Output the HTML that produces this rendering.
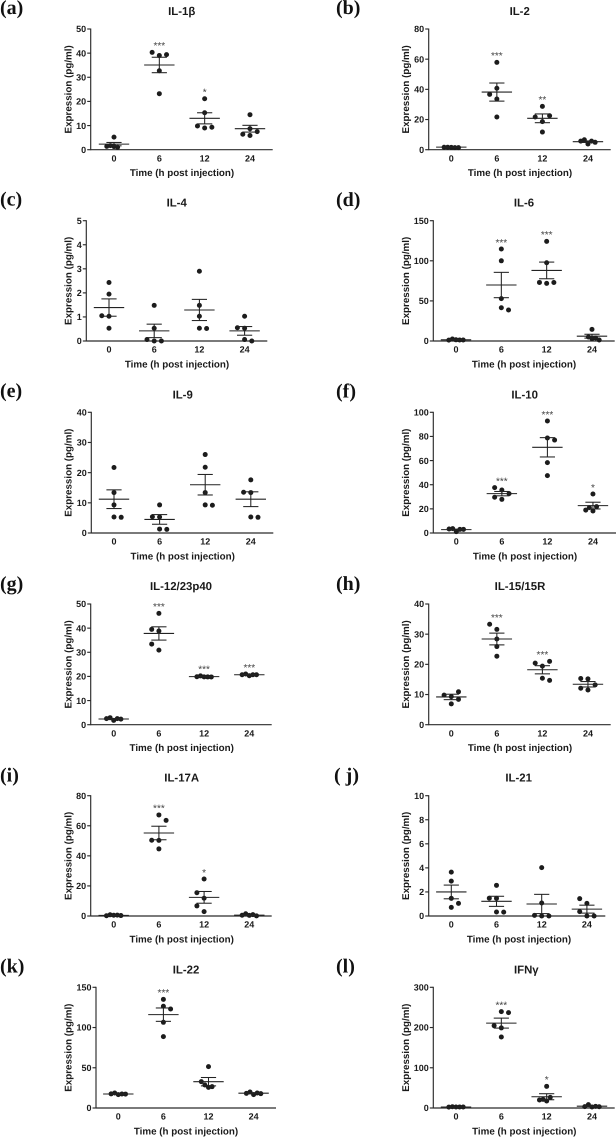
<!DOCTYPE html>
<html lang="en">
<head>
<meta charset="utf-8">
<title>Cytokine expression after injection</title>
<style>
html,body{margin:0;padding:0;background:#fff;}
#figure{display:block;width:616px;height:1137px;filter:blur(0.3px);}
text{font-family:"Liberation Sans",Arial,sans-serif;font-weight:bold;fill:#1a1a1a;text-rendering:geometricPrecision;}
.letter{font-family:"Liberation Serif","Times New Roman",serif;font-size:20px;fill:#111;}
.title{font-size:11.4px;text-anchor:middle;}
.tick{font-size:9px;}
.axis-label{font-size:9.8px;text-anchor:middle;}
.stars{font-size:10px;font-weight:normal;text-anchor:middle;fill:#444;}
</style>
</head>
<body>
<svg id="figure" xmlns="http://www.w3.org/2000/svg" width="616" height="1137" viewBox="0 0 616 1137"></svg>
<script>
const timepoints = ['0', '6', '12', '24'];
const xAxisTitle = 'Time (h post injection)';
const yAxisTitle = 'Expression (pg/ml)';

const il1bTicks = [0, 10, 20, 30, 40, 50];
const il1bDots = [[5.2, 1.3, 1.7, 1.0, 1.4], [39.0, 40.3, 39.4, 32.7, 23.2], [21.1, 15.3, 9.0, 9.8, 9.3], [14.5, 8.7, 7.5, 5.9, 6.4]];
const il1bMeans = [2.3, 35.1, 13, 8.7];
const il1bSems = [0.7, 3.2, 2.3, 1.4];
const il1bStars = ['', '***', '*', ''];

const il2Ticks = [0, 20, 40, 60, 80];
const il2Dots = [[1.5, 1.6, 1.4, 1.65, 1.35], [57.9, 40.7, 33.6, 36.7, 21.7], [28.7, 18.6, 11.7, 21.7, 22.5], [3.8, 6.6, 5.7, 5.69, 4.9]];
const il2Means = [1.7, 38.2, 20.8, 5.3];
const il2Sems = [0.15, 6, 2.9, 0.5];
const il2Stars = ['', '***', '**', ''];

const il4Ticks = [0, 1, 2, 3, 4, 5];
const il4Dots = [[2.43, 1.95, 1.03, 1.05, 0.53], [1.48, 0.53, 0, 0.06, 0], [2.9, 1.48, 1.03, 0.53, 0.52], [1.03, 0.53, 0.55, 0.06, 0]];
const il4Means = [1.39, 0.42, 1.29, 0.42];
const il4Sems = [0.36, 0.28, 0.44, 0.18];
const il4Stars = ['', '', '', ''];

const il6Ticks = [0, 50, 100, 150];
const il6Dots = [[1.5, 2.5, 1.3, 1.2, 1.1], [114.7, 100, 52.8, 41.5, 38.6], [124.2, 97.6, 71.9, 73, 72.9], [14.5, 3, 5, 3.7, 1.2]];
const il6Means = [1.5, 69.8, 88, 6];
const il6Sems = [0.3, 15.8, 10.4, 2.4];
const il6Stars = ['', '***', '***', ''];

const il9Ticks = [0, 10, 20, 30, 40];
const il9Dots = [[21.7, 13.4, 9.3, 5.3, 5.2], [9.3, 5.3, 5.4, 1.3, 1.2], [26, 21.8, 13.4, 9.3, 9.2], [17.6, 13.4, 13.5, 5.3, 5.2]];
const il9Means = [11.2, 4.5, 16, 11.2];
const il9Sems = [3.1, 1.6, 3.4, 2.45];
const il9Stars = ['', '', '', ''];

const il10Ticks = [0, 20, 40, 60, 80, 100];
const il10Dots = [[1.1, 3.6, 3.0, 3.3, 3.01], [35.6, 37.6, 27.9, 29.6, 32.6], [92.8, 78.7, 77, 58.3, 47.5], [32.3, 18.2, 21, 21.8, 19]];
const il10Means = [2.8, 32.6, 71, 22.7];
const il10Sems = [0.4, 1.8, 8, 2.8];
const il10Stars = ['', '***', '***', '*'];

const il12Ticks = [0, 10, 20, 30, 40, 50];
const il12Dots = [[1.8, 2.9, 2.5, 2.51, 2.3], [46.1, 38.8, 39.5, 30.9, 33.4], [19.8, 20.2, 19.79, 19.85, 19.78], [20.3, 21, 20.7, 20.71, 20.69]];
const il12Means = [2.35, 37.8, 19.9, 20.7];
const il12Sems = [0.2, 2.75, 0.1, 0.15];
const il12Stars = ['', '***', '***', '***'];

const il15Ticks = [0, 10, 20, 30, 40];
const il15Dots = [[9.3, 9.8, 10.9, 6.9, 8.4], [31.6, 33.3, 28.4, 25.9, 22.7], [19.4, 20.4, 21, 15.4, 14.7], [15.2, 15.3, 13.2, 11.5, 12.1]];
const il15Means = [9.2, 28.4, 18.2, 13.4];
const il15Sems = [0.9, 1.95, 1.35, 0.9];
const il15Stars = ['', '***', '***', ''];

const il17Ticks = [0, 20, 40, 60, 80];
const il17Dots = [[0.5, 0.8, 0.6, 0.3, 0.2], [67.2, 63.6, 50.3, 50.4, 44.6], [24.6, 11.8, 15.5, 2.9, 6.7], [0.4, 1.5, 0.9, 0.5, 0.1]];
const il17Means = [0.4, 55.2, 12.4, 0.6];
const il17Sems = [0.15, 4.5, 3.9, 0.25];
const il17Stars = ['', '***', '*', ''];

const il21Ticks = [0, 2, 4, 6, 8, 10];
const il21Dots = [[3.65, 2.9, 1.47, 1.05, 0.72], [2.55, 1.47, 1.48, 0.33, 0.32], [4.02, 1.08, 0, 0.05, 0], [1.05, 1.44, 0, 0.36, 0]];
const il21Means = [2, 1.22, 1, 0.57];
const il21Sems = [0.57, 0.42, 0.8, 0.33];
const il21Stars = ['', '', '', ''];

const il22Ticks = [0, 50, 100, 150];
const il22Dots = [[16.6, 18.6, 17.4, 17.5, 17.3], [135, 126.4, 123, 106.5, 88.7], [51.4, 25.7, 28.6, 26.5, 32.7], [16.6, 19.9, 18.6, 18.2, 17.8]];
const il22Means = [17.4, 116, 32.7, 18.4];
const il22Sems = [0.4, 8.3, 5.2, 0.55];
const il22Stars = ['', '***', '', ''];

const ifngTicks = [0, 100, 200, 300];
const ifngDots = [[2.5, 3, 2.5, 2.4, 2.2], [239.5, 237, 199, 204.6, 176.5], [53.9, 17.4, 21.5, 26.5, 19.9], [2.5, 8.3, 4, 3.5, 3]];
const ifngMeans = [2.5, 211, 28, 4.5];
const ifngSems = [0.2, 12.4, 7.5, 1];
const ifngStars = ['', '***', '*', ''];

const panels = [
  {slug: 'il-1b', letter: '(a)', title: 'IL-1β', ticks: il1bTicks, dots: il1bDots, means: il1bMeans, sems: il1bSems, stars: il1bStars},
  {slug: 'il-2', letter: '(b)', title: 'IL-2', ticks: il2Ticks, dots: il2Dots, means: il2Means, sems: il2Sems, stars: il2Stars},
  {slug: 'il-4', letter: '(c)', title: 'IL-4', ticks: il4Ticks, dots: il4Dots, means: il4Means, sems: il4Sems, stars: il4Stars},
  {slug: 'il-6', letter: '(d)', title: 'IL-6', ticks: il6Ticks, dots: il6Dots, means: il6Means, sems: il6Sems, stars: il6Stars},
  {slug: 'il-9', letter: '(e)', title: 'IL-9', ticks: il9Ticks, dots: il9Dots, means: il9Means, sems: il9Sems, stars: il9Stars},
  {slug: 'il-10', letter: '(f)', title: 'IL-10', ticks: il10Ticks, dots: il10Dots, means: il10Means, sems: il10Sems, stars: il10Stars},
  {slug: 'il-12', letter: '(g)', title: 'IL-12/23p40', ticks: il12Ticks, dots: il12Dots, means: il12Means, sems: il12Sems, stars: il12Stars},
  {slug: 'il-15', letter: '(h)', title: 'IL-15/15R', ticks: il15Ticks, dots: il15Dots, means: il15Means, sems: il15Sems, stars: il15Stars},
  {slug: 'il-17a', letter: '(i)', title: 'IL-17A', ticks: il17Ticks, dots: il17Dots, means: il17Means, sems: il17Sems, stars: il17Stars},
  {slug: 'il-21', letter: '( j)', title: 'IL-21', ticks: il21Ticks, dots: il21Dots, means: il21Means, sems: il21Sems, stars: il21Stars},
  {slug: 'il-22', letter: '(k)', title: 'IL-22', ticks: il22Ticks, dots: il22Dots, means: il22Means, sems: il22Sems, stars: il22Stars},
  {slug: 'ifn-gamma', letter: '(l)', title: 'IFNγ', ticks: ifngTicks, dots: ifngDots, means: ifngMeans, sems: ifngSems, stars: ifngStars}
];

/* Plot frames (page layout, not data): one per panel, same order as panels. */
const frames = [
  {axisX: 90.7, yZero: 149.7, yTop: 29, firstCat: 114, step: 45.33, xEnd: 272.7, titleX: 181.7, labelX: 182, yTitleX: 71.5, letterX: 0, letterY: 14},
  {axisX: 428.7, yZero: 149.7, yTop: 29, firstCat: 451.3, step: 45.55, xEnd: 610.7, titleX: 519.7, labelX: 520, yTitleX: 409, letterX: 336, letterY: 14},
  {axisX: 86.3, yZero: 341, yTop: 220.7, firstCat: 109, step: 45.2, xEnd: 267.3, titleX: 176.7, labelX: 177, yTitleX: 71.5, letterX: 0, letterY: 205.7},
  {axisX: 433.3, yZero: 341, yTop: 220.7, firstCat: 456, step: 45.33, xEnd: 614.7, titleX: 524, labelX: 524, yTitleX: 409, letterX: 336, letterY: 206},
  {axisX: 91.3, yZero: 533, yTop: 412.3, firstCat: 114, step: 45.6, xEnd: 273.3, titleX: 182.7, labelX: 182.7, yTitleX: 71.5, letterX: 0, letterY: 397},
  {axisX: 433.3, yZero: 533, yTop: 412.3, firstCat: 456.3, step: 45.55, xEnd: 616, titleX: 524.7, labelX: 525, yTitleX: 409, letterX: 336, letterY: 397.5},
  {axisX: 90.7, yZero: 724.7, yTop: 604, firstCat: 113.7, step: 45.2, xEnd: 271.7, titleX: 181, labelX: 181.7, yTitleX: 71.5, letterX: 0, letterY: 590},
  {axisX: 428.7, yZero: 724.7, yTop: 604, firstCat: 451.3, step: 45.55, xEnd: 610.7, titleX: 520, labelX: 520, yTitleX: 409, letterX: 336, letterY: 590},
  {axisX: 90.7, yZero: 916, yTop: 795.7, firstCat: 113.7, step: 45.2, xEnd: 271.7, titleX: 181.7, labelX: 181.7, yTitleX: 71.5, letterX: 0, letterY: 781.7},
  {axisX: 428.7, yZero: 916, yTop: 795.7, firstCat: 451.3, step: 45.2, xEnd: 605.3, titleX: 518.7, labelX: 519, yTitleX: 409, letterX: 334, letterY: 781.7},
  {axisX: 96, yZero: 1108, yTop: 987.3, firstCat: 118.3, step: 45.1, xEnd: 276, titleX: 186, labelX: 186, yTitleX: 71.5, letterX: 0, letterY: 972.3},
  {axisX: 433.3, yZero: 1108, yTop: 987.3, firstCat: 456, step: 45.33, xEnd: 614.7, titleX: 526.3, labelX: 524.3, yTitleX: 409, letterX: 336, letterY: 972.3}
];

const SVG_NS = 'http://www.w3.org/2000/svg';
const figure = document.getElementById('figure');

function make(parent, tag, name, attrs, content) {
  const el = document.createElementNS(SVG_NS, tag);
  
  
  for (const key in attrs) el.setAttribute(key, attrs[key]);
  if (content !== undefined) el.textContent = content;
  parent.appendChild(el);
  return el;
}

/* Swarm layout: a dot that collides with another in its column moves sideways.
   Columns collapse to half width when a swarm needs five columns. */
function swarmOffsets(values, yScale, unit) {
  const minGap = 6.5;
  const placed = [];
  const collides = (slot, y) => placed.some(p => p.slot === slot && Math.abs(p.y - y) < minGap);
  values.forEach(v => {
    const y = yScale(v);
    let slot = 0;
    if (collides(0, y)) {
      let nearest = null;
      placed.filter(p => p.slot === 0).forEach(p => {
        if (nearest === null || Math.abs(p.y - y) < Math.abs(nearest.y - y)) nearest = p;
      });
      const dir = y < nearest.y ? -1 : 1;
      const order = [dir, -dir, 2 * dir, -2 * dir];
      slot = order.find(s => !collides(s, y));
      if (slot === undefined) slot = 0;
    }
    placed.push({slot: slot, y: y});
  });
  const squeeze = placed.some(p => Math.abs(p.slot) >= 2) ? 0.5 : 1;
  return placed.map(p => p.slot * unit * squeeze);
}

function drawPanel(panel, frame) {
  const group = make(figure, 'g', 'panel-' + panel.slug, {});
  const yMax = panel.ticks[panel.ticks.length - 1];
  const yScale = v => frame.yZero - (v / yMax) * (frame.yZero - frame.yTop);
  const xScale = i => frame.firstCat + i * frame.step;
  const axisStyle = {stroke: '#2b2b2b', 'stroke-width': 1.15, fill: 'none'};

  make(group, 'text', 'panel-letter', {x: frame.letterX, y: frame.letterY, class: 'letter'}, panel.letter);
  make(group, 'text', 'chart-title', {x: frame.titleX, y: frame.yTop - 14, class: 'title'}, panel.title);

  make(group, 'line', 'y-axis', Object.assign({x1: frame.axisX, x2: frame.axisX, y1: frame.yTop - 0.5, y2: frame.yZero + 0.5}, axisStyle));
  make(group, 'line', 'x-axis', Object.assign({x1: frame.axisX, x2: frame.xEnd, y1: frame.yZero, y2: frame.yZero}, axisStyle));

  panel.ticks.forEach(t => {
    const y = yScale(t);
    make(group, 'line', 'y-tick', Object.assign({x1: frame.axisX - 3.5, x2: frame.axisX, y1: y, y2: y}, axisStyle));
    make(group, 'text', 'y-tick-label', {x: frame.axisX - 4.5, y: y + 3.2, class: 'tick', 'text-anchor': 'end'}, String(t));
  });

  timepoints.forEach((label, i) => {
    make(group, 'text', 'x-tick-label', {x: xScale(i), y: frame.yZero + 11.7, class: 'tick', 'text-anchor': 'middle'}, label);
  });

  make(group, 'text', 'x-axis-title', {x: frame.labelX, y: frame.yZero + 26.3, class: 'axis-label'}, xAxisTitle);
  const yTitleY = (frame.yZero + frame.yTop) / 2;
  make(group, 'text', 'y-axis-title', {x: frame.yTitleX, y: yTitleY, class: 'axis-label', transform: 'rotate(-90 ' + frame.yTitleX + ' ' + yTitleY + ')'}, yAxisTitle);

  timepoints.forEach((label, i) => {
    const cx = xScale(i);
    const values = panel.dots[i];
    const offsets = swarmOffsets(values, yScale, 7.2);
    values.forEach((v, j) => {
      make(group, 'circle', 'data-point-' + label + 'h', {cx: cx + offsets[j], cy: yScale(v), r: 2.5, fill: '#1c1c1c'});
    });

    const markStyle = {stroke: '#222', 'stroke-width': 1.05};
    const meanY = yScale(panel.means[i]);
    const hiY = yScale(panel.means[i] + panel.sems[i]);
    const loY = yScale(panel.means[i] - panel.sems[i]);
    make(group, 'line', 'mean-line-' + label + 'h', Object.assign({x1: cx - 15.2, x2: cx + 15.2, y1: meanY, y2: meanY}, markStyle));
    make(group, 'line', 'error-bar-' + label + 'h', Object.assign({x1: cx, x2: cx, y1: hiY, y2: loY}, markStyle));
    make(group, 'line', 'error-cap-upper-' + label + 'h', Object.assign({x1: cx - 7.6, x2: cx + 7.6, y1: hiY, y2: hiY}, markStyle));
    make(group, 'line', 'error-cap-lower-' + label + 'h', Object.assign({x1: cx - 7.6, x2: cx + 7.6, y1: loY, y2: loY}, markStyle));

    if (panel.stars[i]) {
      const topY = yScale(Math.max.apply(null, values));
      make(group, 'text', 'significance-stars-' + label + 'h', {x: cx, y: topY - 3.2, class: 'stars'}, panel.stars[i]);
    }
  });
}

panels.forEach((panel, i) => drawPanel(panel, frames[i]));
</script>
</body>
</html>
